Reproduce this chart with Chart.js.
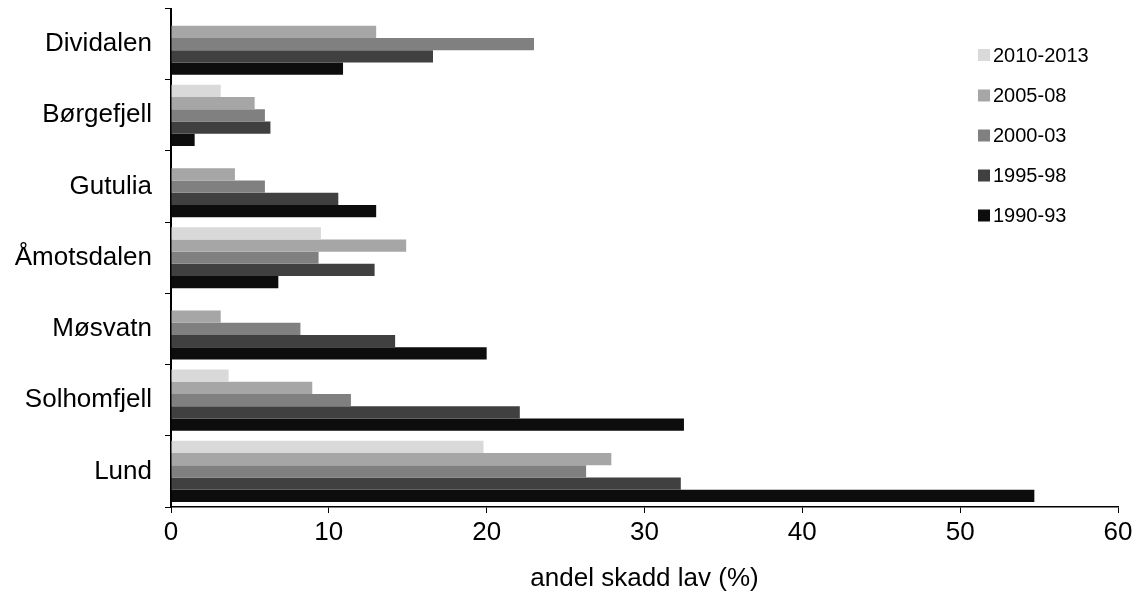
<!DOCTYPE html>
<html>
<head>
<meta charset="utf-8">
<script src="https://cdn.jsdelivr.net/npm/chart.js@4/dist/chart.umd.min.js"></script>
<style>
html,body{margin:0;padding:0;background:#fff;}
#wrap{width:1142px;height:594px;position:relative;}
</style>
</head>
<body>
<div id="wrap"><canvas id="c" width="1142" height="594"></canvas></div>
<script>
const categories = ["Dividalen", "Børgefjell", "Gutulia", "Åmotsdalen", "Møsvatn", "Solhomfjell", "Lund"];
const seriesNames = ["2010-2013", "2005-08", "2000-03", "1995-98", "1990-93"];
const s2010_2013 = [0, 3.15, 0, 9.5, 0, 3.65, 19.8];
const s2005_08   = [13.0, 5.3, 4.05, 14.9, 3.15, 8.95, 27.9];
const s2000_03   = [23.0, 5.95, 5.95, 9.35, 8.2, 11.4, 26.3];
const s1995_98   = [16.6, 6.3, 10.6, 12.9, 14.2, 22.1, 32.3];
const s1990_93   = [10.9, 1.5, 13.0, 6.8, 20.0, 32.5, 54.7];
const xTicks = [0, 10, 20, 30, 40, 50, 60];
const colors = ["#d9d9d9", "#a6a6a6", "#808080", "#404040", "#0d0d0d"];
const seriesValues = [s2010_2013, s2005_08, s2000_03, s1995_98, s1990_93];

const FONT = "'Liberation Sans', Arial, sans-serif";

const legendPlugin = {
  id: 'sideLegend',
  afterDraw(chart) {
    const ctx = chart.ctx;
    ctx.save();
    ctx.font = "20px " + FONT;
    ctx.textBaseline = 'middle';
    ctx.textAlign = 'left';
    const ys = [55, 95.5, 135.5, 175.5, 215.5];
    chart.data.datasets.forEach((ds, i) => {
      ctx.fillStyle = ds.backgroundColor;
      ctx.fillRect(978, ys[i] - 6, 12, 12);
      ctx.fillStyle = '#000';
      ctx.fillText(ds.label, 993, ys[i] + 1);
    });
    ctx.restore();
  }
};

new Chart(document.getElementById('c'), {
  type: 'bar',
  data: {
    labels: categories,
    datasets: seriesNames.map((n, i) => ({
      label: n,
      data: seriesValues[i],
      backgroundColor: colors[i],
      borderWidth: 0,
      categoryPercentage: 0.86,
      barPercentage: 1.0
    }))
  },
  options: {
    indexAxis: 'y',
    responsive: false,
    animation: false,
    devicePixelRatio: 1,
    layout: { padding: { top: 8.5, right: 24, bottom: 0, left: 0 } },
    plugins: { legend: { display: false }, tooltip: { enabled: false } },
    scales: {
      x: {
        min: 0, max: 60,
        afterBuildTicks(scale) { scale.ticks = xTicks.map(v => ({ value: v })); },
        afterFit(scale) { scale.height = 87; },
        grid: { drawOnChartArea: false, tickLength: 6, color: '#000', lineWidth: 1 },
        border: { display: true, color: '#000', width: 1.5 },
        ticks: { color: '#000', font: { family: FONT, size: 26 }, padding: 4 },
        title: { display: true, text: 'andel skadd lav (%)', color: '#000', font: { family: FONT, size: 26 }, padding: { top: 0, bottom: 0 } }
      },
      y: {
        afterFit(scale) { scale.width = 171; scale.paddingTop = 0; scale.paddingBottom = 0; },
        grid: { drawOnChartArea: false, tickLength: 6, color: '#000', lineWidth: 1, offset: true },
        border: { display: true, color: '#000', width: 2 },
        ticks: { color: '#000', font: { family: FONT, size: 26 }, padding: 13 }
      }
    }
  },
  plugins: [legendPlugin]
});
</script>
</body>
</html>
